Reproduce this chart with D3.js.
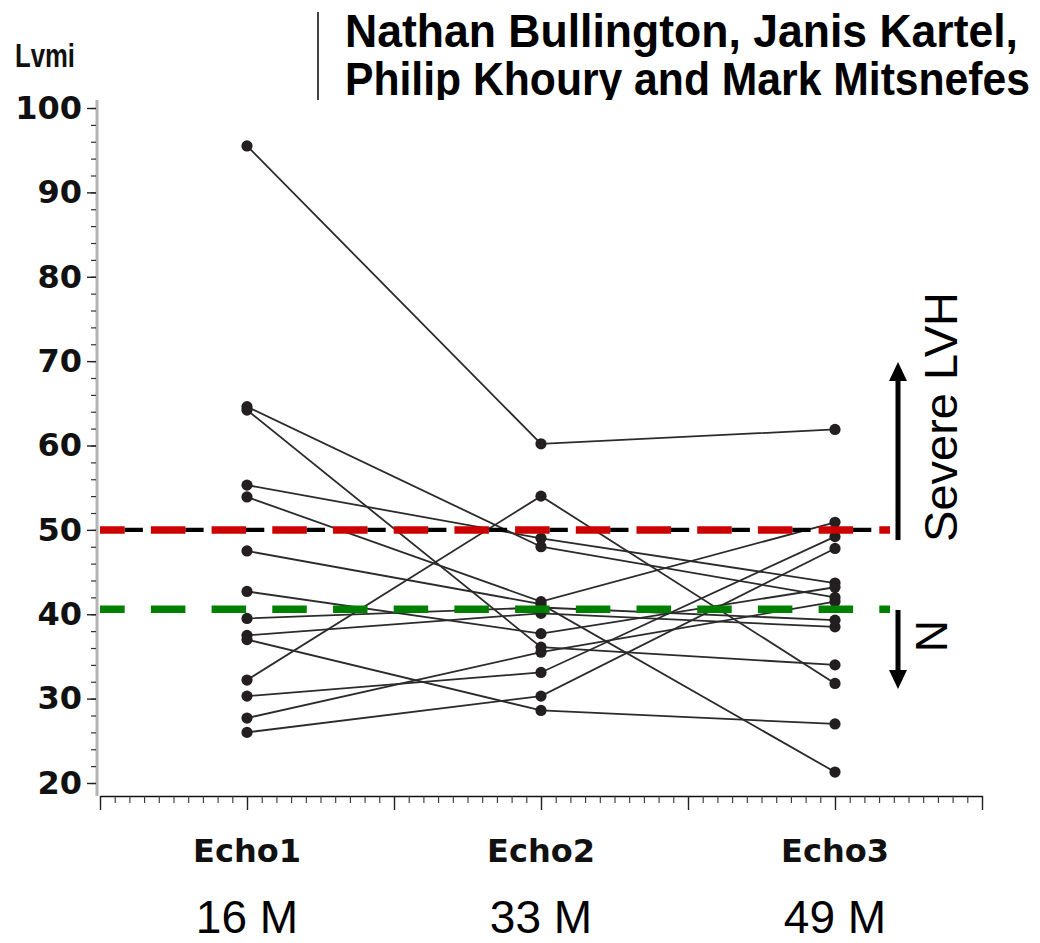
<!DOCTYPE html>
<html>
<head>
<meta charset="utf-8">
<script src="https://cdn.jsdelivr.net/npm/d3@7"></script>
<style>
  html, body { margin: 0; padding: 0; background: #fff; }
  svg { display: block; }
</style>
</head>
<body>
<svg id="chart" width="1040" height="943"></svg>
<script>
// Echo visits and follow-up times
const categories = ["Echo1", "Echo2", "Echo3"];
const followUp = ["16 M", "33 M", "49 M"];

// LVMI per patient at each echo (same index = same patient)
const echo1 = [95.5, 64.6, 64.2, 55.3, 53.9, 47.5, 42.7, 39.5, 37.5, 37.0, 32.2, 30.3, 27.7, 26.0];
const echo2 = [60.2, 48.0, 36.1, 49.0, 41.5, 41.2, 37.7, 40.8, 40.1, 28.6, 54.0, 33.1, 35.5, 30.3];
const echo3 = [61.9, 42.0, 34.0, 43.7, 50.9, 21.3, 43.2, 39.3, 38.5, 27.0, 31.8, 49.2, 41.5, 47.8];

// Axis ticks
const yTicks = [20, 30, 40, 50, 60, 70, 80, 90, 100];
const yMinorTicks = d3.range(20, 101, 2);
const xMajorTicks = d3.range(0, 7).map(i => 0.5 + i * 0.5);
const xMinorTicks = d3.range(0, 61).map(i => 0.5 + i * 0.05);

// Threshold lines
const severeCutoff = 50;
const normalCutoff = 40.6;

const authors = ["Nathan Bullington, Janis Kartel,", "Philip Khoury and Mark Mitsnefes"];

const svg = d3.select("#chart");
svg.append("rect").attr("width", 1040).attr("height", 943).attr("fill", "#fff");

const x = d3.scaleLinear().domain([0.5, 3.5]).range([100, 982]);
const y = d3.scaleLinear().domain([20, 100]).range([783, 108]);
const xAxisY = 796;
const yAxisX = 97;

// ---- Y axis ----
svg.append("line")
  .attr("x1", yAxisX).attr("x2", yAxisX)
  .attr("y1", 100).attr("y2", xAxisY)
  .attr("stroke", "#b4b4b4").attr("stroke-width", 3);

const yMinor = svg.append("g").attr("transform", `translate(${yAxisX - 1},0)`)
  .call(d3.axisLeft(y).tickValues(yMinorTicks).tickSize(5).tickFormat(""));
yMinor.select(".domain").remove();
yMinor.selectAll(".tick line").attr("stroke", "#333").attr("stroke-width", 1.2);

const yMajor = svg.append("g").attr("transform", `translate(${yAxisX - 1},0)`)
  .call(d3.axisLeft(y).tickValues(yTicks).tickSize(9).tickPadding(5));
yMajor.select(".domain").remove();
yMajor.selectAll(".tick line").attr("stroke", "#222").attr("stroke-width", 1.4);
yMajor.selectAll(".tick text")
  .attr("font-family", "DejaVu Sans, sans-serif")
  .attr("font-weight", "bold")
  .attr("font-size", 32)
  .attr("fill", "#111");

// ---- X axis ----
const xMinor = svg.append("g").attr("transform", `translate(0,${xAxisY})`)
  .call(d3.axisBottom(x).tickValues(xMinorTicks).tickSize(7).tickSizeOuter(0).tickFormat(""));
xMinor.select(".domain").attr("stroke", "#111").attr("stroke-width", 1.6);
xMinor.selectAll(".tick line").attr("stroke", "#333").attr("stroke-width", 1.1);

const xMajor = svg.append("g").attr("transform", `translate(0,${xAxisY})`)
  .call(d3.axisBottom(x).tickValues(xMajorTicks).tickSize(14).tickSizeOuter(0).tickFormat(""));
xMajor.select(".domain").remove();
xMajor.selectAll(".tick line").attr("stroke", "#222").attr("stroke-width", 1.4);

// Category labels and follow-up months
svg.append("g").selectAll("text").data(categories).join("text")
  .attr("x", (d, i) => x(i + 1)).attr("y", 862)
  .attr("text-anchor", "middle")
  .attr("font-family", "DejaVu Sans, sans-serif")
  .attr("font-weight", "bold").attr("font-size", 32).attr("fill", "#111")
  .text(d => d);

svg.append("g").selectAll("text").data(followUp).join("text")
  .attr("x", (d, i) => x(i + 1)).attr("y", 933)
  .attr("text-anchor", "middle")
  .attr("font-family", "Liberation Sans, Arial, sans-serif")
  .attr("font-size", 46).attr("fill", "#000")
  .text(d => d);

// ---- Patient trajectories ----
const patients = echo1.map((v, i) => [echo1[i], echo2[i], echo3[i]]);
const line = d3.line().x((d, i) => x(i + 1)).y(d => y(d));

svg.append("g").selectAll("path").data(patients).join("path")
  .attr("d", line)
  .attr("fill", "none")
  .attr("stroke", "#2b2b2b")
  .attr("stroke-width", 1.8);

const points = patients.flatMap(p => p.map((v, i) => ({ i, v })));
svg.append("g").selectAll("circle").data(points).join("circle")
  .attr("cx", d => x(d.i + 1)).attr("cy", d => y(d.v))
  .attr("r", 5.6)
  .attr("fill", "#231f20");

// ---- Threshold lines ----
const period = 60.7;
const thrStart = 100, thrEnd = 890;
svg.append("line")
  .attr("x1", thrStart).attr("x2", thrEnd)
  .attr("y1", y(severeCutoff)).attr("y2", y(severeCutoff))
  .attr("stroke", "#000").attr("stroke-width", 4.3)
  .attr("stroke-dasharray", `18.3 ${period - 18.3}`)
  .attr("stroke-dashoffset", 36.1);
svg.append("line")
  .attr("x1", thrStart).attr("x2", thrEnd)
  .attr("y1", y(severeCutoff)).attr("y2", y(severeCutoff))
  .attr("stroke", "#cc0000").attr("stroke-width", 7.5)
  .attr("stroke-dasharray", `34.5 ${period - 34.5}`)
  .attr("stroke-dashoffset", 9.8);
svg.append("line")
  .attr("x1", thrStart).attr("x2", thrEnd)
  .attr("y1", y(normalCutoff)).attr("y2", y(normalCutoff))
  .attr("stroke", "#008000").attr("stroke-width", 7.5)
  .attr("stroke-dasharray", `34.5 ${period - 34.5}`)
  .attr("stroke-dashoffset", 9.8);

// ---- Range arrows and labels ----
const arrowX = 898;
svg.append("line").attr("x1", arrowX).attr("x2", arrowX)
  .attr("y1", 540).attr("y2", 376).attr("stroke", "#000").attr("stroke-width", 5);
svg.append("path")
  .attr("d", `M${arrowX},362 L${arrowX - 9},381 L${arrowX + 9},381 Z`).attr("fill", "#000");
svg.append("line").attr("x1", arrowX).attr("x2", arrowX)
  .attr("y1", 610).attr("y2", 674).attr("stroke", "#000").attr("stroke-width", 5);
svg.append("path")
  .attr("d", `M${arrowX},689 L${arrowX - 9},670 L${arrowX + 9},670 Z`).attr("fill", "#000");

svg.append("text")
  .attr("transform", "translate(957,417) rotate(-90)")
  .attr("text-anchor", "middle")
  .attr("font-family", "Liberation Sans, Arial, sans-serif")
  .attr("font-size", 47).attr("fill", "#000")
  .text("Severe LVH");
svg.append("text")
  .attr("transform", "translate(947,636) rotate(-90)")
  .attr("text-anchor", "middle")
  .attr("font-family", "Liberation Sans, Arial, sans-serif")
  .attr("font-size", 44).attr("fill", "#000")
  .text("N");

// ---- Axis title ----
svg.append("text")
  .attr("x", 15).attr("y", 67)
  .attr("font-family", "Liberation Sans Narrow, Liberation Sans, Arial, sans-serif")
  .attr("font-weight", "bold").attr("font-size", 34).attr("fill", "#111")
  .attr("textLength", 60).attr("lengthAdjust", "spacingAndGlyphs")
  .text("Lvmi");

// ---- Author header ----
svg.append("line").attr("x1", 318).attr("x2", 318).attr("y1", 12).attr("y2", 100)
  .attr("stroke", "#111").attr("stroke-width", 1.6);

svg.append("defs").append("clipPath").attr("id", "headerClip")
  .append("rect").attr("x", 330).attr("y", 0).attr("width", 710).attr("height", 100);

const header = svg.append("g").attr("clip-path", "url(#headerClip)");
header.selectAll("text").data(authors).join("text")
  .attr("x", 345).attr("y", (d, i) => 47 + i * 48)
  .attr("font-family", "Liberation Sans Narrow, Liberation Sans, Arial, sans-serif")
  .attr("font-weight", "bold").attr("font-size", 46).attr("fill", "#000")
  .attr("textLength", (d, i) => i === 0 ? 673 : 685)
  .attr("lengthAdjust", "spacingAndGlyphs")
  .text(d => d);
</script>
</body>
</html>
